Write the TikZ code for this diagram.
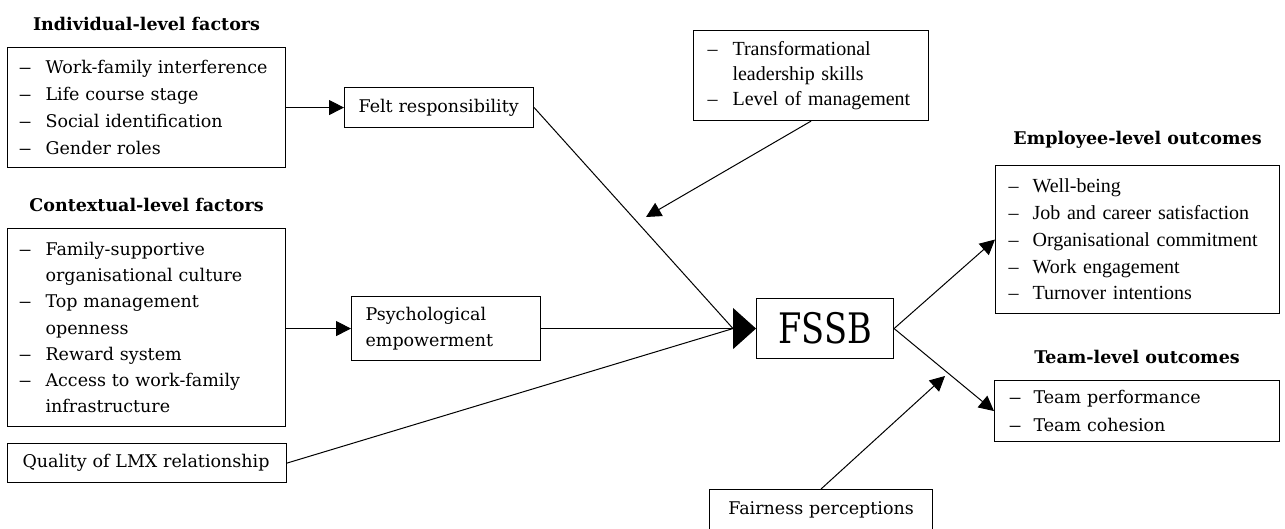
\documentclass[tikz,border=0pt]{standalone}
\usepackage{fontspec}
\setmainfont{DejaVu Serif}
\newfontfamily\timesfont{Liberation Serif}
\newfontfamily\fssbfont{DejaVu Serif}[FakeStretch=0.8]
\usetikzlibrary{arrows.meta,positioning}

\newcommand{\itm}[2][27pt]{\makebox[#1][l]{\scalebox{1.5}[1]{–}}#2}
\newcommand{\titm}[1]{\makebox[24pt][l]{–}#1}
\newcommand{\cnt}[2][27pt]{\hspace*{#1}#2}

\tikzset{
    factorbox/.style={draw, line width=1.1pt, align=left, anchor=north west,
        inner xsep=11pt, inner ysep=0pt, font=\fontsize{17.5}{27}\selectfont},
    heading/.style={font=\bfseries\fontsize{17.5}{20}\selectfont, inner sep=0pt},
    link/.style={line width=1pt},
    arr/.style={line width=1pt, -{Triangle[length=15pt,width=15pt]}},
    bigarr/.style={line width=1pt, -{Triangle[length=23pt,width=41pt]}}
}

\begin{document}
\begin{tikzpicture}[x=1pt, y=-1pt]
            \fill[white] (0,0) rectangle (1285,529);
            \useasboundingbox (0,0) rectangle (1285,529);
            % antecedents
            \node[factorbox, text width=256pt, minimum height=120pt] (indiv) at (7,47)
                {\itm{Work-family interference}\\ \itm{Life course stage}\\
                 \itm{Social identification}\\ \itm{Gender roles}};
            \node[heading, above=16pt of indiv] (indivhead) {Individual-level factors};
            \node[factorbox, text width=256pt, minimum height=198pt,
                font=\fontsize{17.5}{26.3}\selectfont] (context) at (7,228)
                {\itm{Family-supportive}\\ \cnt{organisational culture}\\
                 \itm{Top management}\\ \cnt{openness}\\ \itm{Reward system}\\
                 \itm{Access to work-family}\\ \cnt{infrastructure}};
            \node[heading, above=16pt of context] (contexthead) {Contextual-level factors};
            \node[factorbox, inner xsep=15pt, text width=249pt, minimum height=39pt] (lmx) at (7,443)
                {Quality of LMX relationship};
            % mediators
            \node[factorbox, inner xsep=14pt, text width=161pt, minimum height=40pt] (felt) at (344,87)
                {Felt responsibility};
            \node[factorbox, inner xsep=14pt, text width=161pt, minimum height=64pt,
                font=\fontsize{17.5}{26}\selectfont] (psych) at (351,296)
                {Psychological\\ empowerment};
            % moderators
            \node[factorbox, inner xsep=14pt, text width=207pt, minimum height=90pt,
                font=\timesfont\fontsize{20}{25}\selectfont] (trans) at (693,30)
                {\makebox[25pt][l]{–}Transformational\\ \cnt[25pt]{leadership skills}\\
                 \makebox[25pt][l]{–}Level of management};
            \node[factorbox, inner xsep=11pt, text width=201pt, minimum height=40pt, align=center] (fair) at (709,489)
                {Fairness perceptions};
            % FSSB
            \node[factorbox, inner sep=0pt, minimum width=137pt, minimum height=60pt,
                align=center, font=\fssbfont\fontsize{42}{44}\selectfont] (fssb) at (756,298) {FSSB};
            % outcomes
            \node[factorbox, inner xsep=13pt, text width=258pt, minimum height=148pt,
                font=\timesfont\fontsize{20}{26.8}\selectfont] (emp) at (995,165)
                {\titm{Well-being}\\ \titm{Job and career satisfaction}\\
                 \titm{Organisational commitment}\\ \titm{Work engagement}\\
                 \titm{Turnover intentions}};
            \node[heading, above=16pt of emp] (emphead) {Employee-level outcomes};
            \node[factorbox, inner xsep=14pt, text width=257pt, minimum height=61pt,
                font=\fontsize{17.5}{28}\selectfont] (team) at (994,380)
                {\itm[25pt]{Team performance}\\ \itm[25pt]{Team cohesion}};
            \node[heading, above=16pt of team] (teamhead) {Team-level outcomes};
            % connectors
            \coordinate (fssbin) at ([xshift=-23pt]fssb.west);
            \coordinate (modpt) at (646,217);
            \coordinate (fairpt) at (945,376);
            \draw[arr] (indiv.east |- felt.west) -- (felt.west);
            \draw[arr] (context.east |- psych.west) -- (psych.west);
            \draw[link] (felt.east) -- (fssbin);
            \draw[link] (lmx.east) -- (fssbin);
            \draw[bigarr] (psych.east) -- (fssb.west);
            \draw[arr] (trans.south) -- (modpt);
            \draw[arr] (fair.north) -- (fairpt);
            \draw[arr] (fssb.east) -- (emp.west);
            \draw[arr] (fssb.east) -- (team.west);
        \end{tikzpicture}
\end{document}
